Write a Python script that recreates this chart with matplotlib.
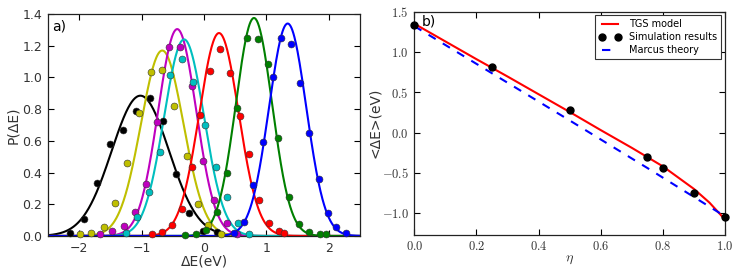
import numpy as np
import matplotlib
matplotlib.use("Agg")
import matplotlib.pyplot as plt
from matplotlib.ticker import FuncFormatter

plt.rcParams['mathtext.fontset'] = 'cm'
plt.rcParams['font.family'] = 'DejaVu Sans'

# ---- panel a): histograms (dots) and Gaussian fits (lines) ----
colors = ['k', 'y', 'm', 'c', 'r', 'g', 'b']
# fitted Gaussian parameters
fit_center = [-1.02, -0.67, -0.43, -0.32, 0.24, 0.80, 1.34]
fit_height = [0.885, 1.17, 1.305, 1.24, 1.28, 1.375, 1.34]
fit_sigma = [0.46, 0.34, 0.305, 0.32, 0.315, 0.29, 0.298]

black_x = [-2.15, -1.93, -1.72, -1.51, -1.30, -1.09, -0.865, -0.665, -0.45, -0.24, -0.02, 0.20]
black_y = [0.017, 0.11, 0.335, 0.58, 0.67, 0.79, 0.868, 0.727, 0.39, 0.143, 0.034, 0.027]
yellow_x = [-1.99, -1.81, -1.61, -1.42, -1.24, -1.05, -0.85, -0.67, -0.475, -0.28, -0.09, 0.07, 0.27]
yellow_y = [0.01, 0.02, 0.055, 0.21, 0.46, 0.775, 1.036, 1.047, 0.82, 0.504, 0.20, 0.07, 0.01]
magenta_x = [-1.66, -1.48, -1.29, -1.11, -0.93, -0.75, -0.56, -0.38, -0.20, -0.01, 0.16, 0.36, 0.53]
magenta_y = [0.013, 0.034, 0.06, 0.15, 0.33, 0.72, 1.19, 1.19, 0.946, 0.475, 0.227, 0.084, 0.01]
cyan_x = [-1.25, -1.07, -0.88, -0.70, -0.54, -0.36, -0.17, 0.016, 0.187, 0.37, 0.55, 0.72]
cyan_y = [0.02, 0.12, 0.28, 0.53, 1.015, 1.115, 0.973, 0.70, 0.437, 0.244, 0.08, 0.01]
red_x = [-0.84, -0.68, -0.52, -0.36, -0.20, -0.06, 0.10, 0.26, 0.42, 0.575, 0.725, 0.885, 1.045, 1.20, 1.285]
red_y = [0.013, 0.027, 0.07, 0.168, 0.437, 0.763, 1.04, 1.18, 1.03, 0.755, 0.517, 0.225, 0.08, 0.03, 0.017]
green_x = [-0.30, -0.13, 0.03, 0.20, 0.36, 0.53, 0.69, 0.87, 1.03, 1.19, 1.355, 1.52, 1.685, 1.86, 1.95]
green_y = [0.005, 0.01, 0.038, 0.153, 0.40, 0.805, 1.25, 1.24, 1.085, 0.62, 0.244, 0.076, 0.023, 0.013, 0.013]
blue_x = [0.48, 0.64, 0.79, 0.94, 1.10, 1.23, 1.39, 1.54, 1.685, 1.835, 1.98, 2.12, 2.27]
blue_y = [0.02, 0.088, 0.32, 0.59, 1.0, 1.25, 1.21, 0.967, 0.65, 0.357, 0.143, 0.059, 0.02]
dots_x = [black_x, yellow_x, magenta_x, cyan_x, red_x, green_x, blue_x]
dots_y = [black_y, yellow_y, magenta_y, cyan_y, red_y, green_y, blue_y]

# ---- panel b): mean energy gap vs eta ----
eta_tgs = [0.0, 0.1, 0.2, 0.3, 0.4, 0.5, 0.6, 0.7, 0.8, 0.9, 0.95, 1.0]
tgs = [1.35, 1.13, 0.91, 0.695, 0.475, 0.255, 0.03, -0.19, -0.42, -0.70, -0.87, -1.08]
eta_sim = [0.0, 0.25, 0.5, 0.75, 0.8, 0.9, 1.0]
sim = [1.33, 0.815, 0.274, -0.303, -0.444, -0.755, -1.045]
eta_marcus = [0.0, 0.25, 0.5, 0.75, 0.9, 1.0]
marcus = [1.32, 0.735, 0.15, -0.44, -0.80, -1.04]

txt = '#333333'
fig = plt.figure(figsize=(7.47, 2.70), dpi=100)
ax1 = fig.add_axes([0.0643, 0.126, 0.4177, 0.822])
ax2 = fig.add_axes([0.5546, 0.130, 0.416, 0.827])

xs = np.linspace(-2.5, 2.5, 600)
for c, mu, h, s, dx, dy in zip(colors, fit_center, fit_height, fit_sigma, dots_x, dots_y):
    ax1.plot(xs, h * np.exp(-(xs - mu) ** 2 / (2 * s ** 2)), color=c, lw=1.5, zorder=2)
    ax1.plot(dx, dy, 'o', color=c, ms=5, mec='#333333', mew=0.4, zorder=3, clip_on=False)

ax1.set_xlim(-2.5, 2.5)
ax1.set_ylim(0, 1.4)
ax1.set_xticks([-2, -1, 0, 1, 2])
ax1.set_yticks(np.arange(0, 1.41, 0.2))
ax1.set_yticklabels(['%.1f' % v for v in np.arange(0, 1.41, 0.2)])
ax1.set_xticklabels(['\u22122', '\u22121', '0', '1', '2'])
ax1.set_xlabel('\u0394E(eV)', fontsize=10, color=txt, labelpad=0)
ax1.set_ylabel('P(\u0394E)', fontsize=10, color=txt, labelpad=2)
ax1.text(0.012, 0.975, 'a)', transform=ax1.transAxes, fontsize=10, va='top', ha='left')

ax2.plot(eta_tgs, tgs, color='r', lw=1.5, label='TGS model', zorder=2)
ax2.plot(eta_sim, sim, 'o', color='k', ms=5, label='Simulation results', zorder=3, clip_on=False)
ax2.plot(eta_marcus, marcus, '--', color='b', lw=1.5, dashes=(4, 4), label='Marcus theory', zorder=2)
ax2.set_xlim(0, 1)
ax2.set_ylim(-1.27, 1.5)
ax2.set_xticks(np.arange(0, 1.01, 0.2))
ax2.set_yticks([-1.0, -0.5, 0.0, 0.5, 1.0, 1.5])
ax2.xaxis.set_major_formatter(FuncFormatter(lambda v, p: r'$%.1f$' % v))
ax2.yaxis.set_major_formatter(FuncFormatter(lambda v, p: r'$%.1f$' % v))
ax2.set_xlabel(r'$\eta$', fontsize=10, color=txt, labelpad=-1)
ax2.set_ylabel('<\u0394E>(eV)', fontsize=10, color=txt, labelpad=0)
ax2.text(0.025, 0.985, 'b)', transform=ax2.transAxes, fontsize=10, va='top', ha='left')
leg = ax2.legend(loc='upper right', fontsize=7, numpoints=2, handlelength=2.3,
                 fancybox=False, framealpha=1, borderaxespad=0.4, labelspacing=0.3)
leg.get_frame().set_edgecolor('#333333')
leg.get_frame().set_linewidth(0.8)

for ax in (ax1, ax2):
    ax.tick_params(direction='in', top=True, right=True, length=4, width=0.8,
                   labelsize=9, labelcolor=txt, pad=4)
    for sp in ax.spines.values():
        sp.set_linewidth(0.9)
        sp.set_color('#222222')

fig.savefig('out.png', dpi=100)
